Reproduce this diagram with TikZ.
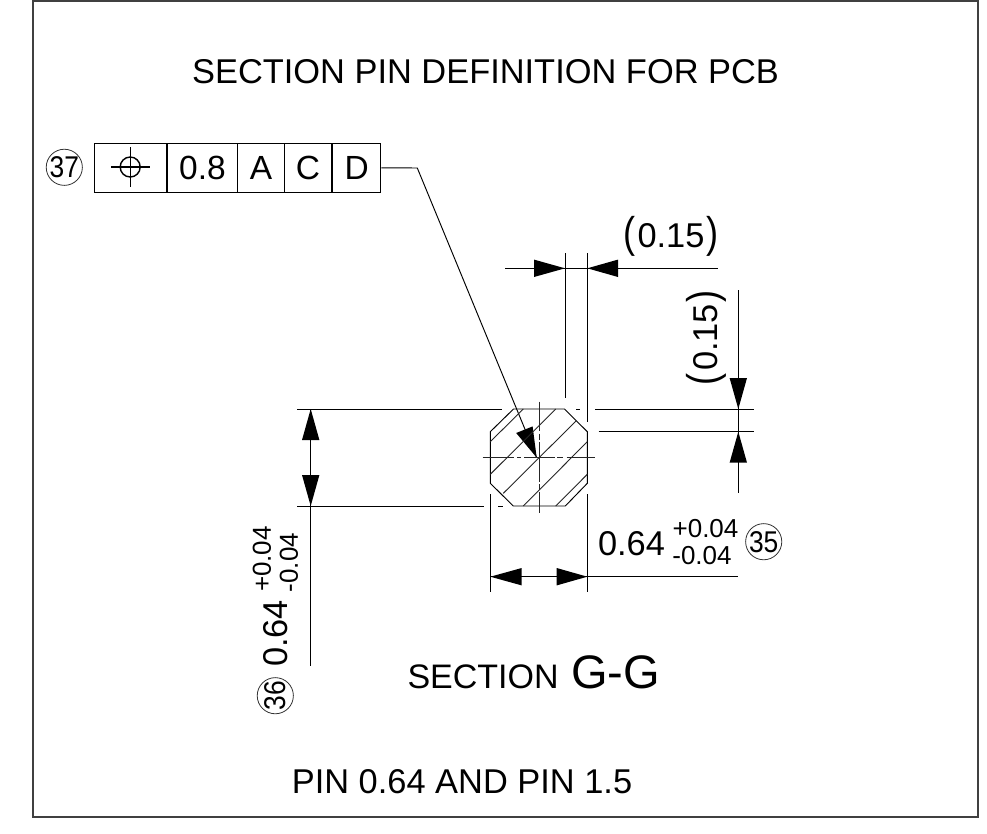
\documentclass[tikz,border=0pt]{standalone}
\usepackage{fontspec}
\setmainfont{Liberation Sans}
\newcommand{\fs}[1]{\fontsize{#1}{#1}\selectfont}
\newcommand{\tallp}[1]{\scalebox{1.05}[1.25]{#1}}
\newcommand{\narrow}[1]{\scalebox{0.88}[1]{#1}}
\tikzset{
  lin/.style={draw=black,line width=0.95pt},
  hat/.style={draw=black!85,line width=0.9pt},
  frm/.style={draw=black!75,line width=1.3pt},
  cell/.style={draw=black,line width=1pt},
  arr/.style={fill=black,draw=none},
  lab/.style={inner sep=0pt,outer sep=0pt,text=black},
  big/.style={lab,font=\fs{34.4}},
  tol/.style={lab,font=\fs{26}},
  bubble/.style={draw=black!80,line width=0.8pt,circle,minimum size=34pt,inner sep=0pt,font=\fs{30}},
}
\newcommand{\darrow}[4]{\fill[arr] (#1,#2) -- (#3,#4-8.7) -- (#3,#4+8.7) -- cycle;}
\begin{document}
\begin{tikzpicture}[x=1pt,y=-1pt]
\useasboundingbox (0,0) rectangle (987,833);
\draw[frm] (33,1) rectangle (978,817);
\node[big] (title) at (485.5,72) {SECTION PIN DEFINITION FOR PCB};
% feature control frame
\draw[cell] (94,143.3) rectangle (166.7,192.3);
\node[cell,minimum width=70.6pt,minimum height=49pt,inner sep=0pt,font=\fs{33.5},anchor=west] (c1) at (166.7,167.8) {0.8};
\node[cell,minimum width=46.7pt,minimum height=49pt,inner sep=0pt,font=\fs{33.5},anchor=west] (c2) at (237.3,167.8) {A};
\node[cell,minimum width=46.7pt,minimum height=49pt,inner sep=0pt,font=\fs{33.5},anchor=west] (c3) at (284,167.8) {C};
\node[cell,minimum width=48pt,minimum height=49pt,inner sep=0pt,font=\fs{33.5},anchor=west] (c4) at (332.3,167.8) {D};
\draw[lin,line width=1.4pt] (130.2,167) circle (10);
\draw[lin,line width=1.4pt] (111,167) -- (149.5,167) (130.2,147) -- (130.2,187);
\node[bubble] (b37) at (64.3,167.3) {\narrow{37}};
% leader
\coordinate (ltip) at (536.7,457.7);
\draw[lin] (c4.east) -- (417.3,168) -- (ltip);
\fill[arr] (ltip) -- (516.2,433) -- (532.6,426.4) -- cycle;
% octagon
\draw[lin] (513.5,409) -- (564.5,409) -- (587.3,431.7) -- (587.3,483.3) -- (565.3,506) -- (513.3,506) -- (490.3,483.3) -- (490.3,431.7) -- cycle;
% hatching
\draw[hat] (490.3,441.7) -- (523.3,409) (490.3,474.3) -- (555.7,409) (503.3,493.3) -- (576.3,420.7) (523.3,506) -- (587.3,441.7) (555.7,506) -- (587.3,474.3);
% centre lines
\draw[hat] (482.7,457.3) -- (514,457.3) (517,457.3) -- (521,457.3) (524,457.3) -- (555,457.3) (557,457.3) -- (563,457.3) (566.5,457.3) -- (595,457.3);
\draw[hat] (539,401.7) -- (539,431) (539,433.5) -- (539,440) (539,442) -- (539,482) (539,484) -- (539,490) (539,492) -- (539,513);
% extension lines
\draw[lin] (297,409.2) -- (502,409.2) (576,409.2) -- (580,409.2) (595,409.2) -- (753.7,409.2)
  (598.7,431.7) -- (753.7,431.7)
  (297,506.2) -- (484,506.2) (498,506.2) -- (503,506.2)
  (490.3,494) -- (490.3,591.5)
  (587.3,253) -- (587.3,422) (587.3,494) -- (587.3,591.5)
  (565.3,253) -- (565.3,398);
% top dimension
\draw[lin] (505,268.3) -- (718,268.3);
\darrow{565}{268.3}{534}{268.3}
\darrow{587.3}{268.3}{618}{268.3}
\node[big] (d1) at (671,236) {\tallp{(}\hspace{2pt}0.15\hspace{2pt}\tallp{)}};
% right dimension
\draw[lin] (738.3,290) -- (738.3,493);
\fill[arr] (738.3,409) -- (729.6,378) -- (747,378) -- cycle;
\fill[arr] (738.3,431.7) -- (729.6,462.7) -- (747,462.7) -- cycle;
\node[big,rotate=90] (d2) at (706,337.5) {\tallp{(}\hspace{2pt}0.15\hspace{2pt}\tallp{)}};
% left dimension
\draw[lin] (310.7,409) -- (310.7,666);
\fill[arr] (310.7,409) -- (302,440) -- (319.4,440) -- cycle;
\fill[arr] (310.7,506) -- (302,475) -- (319.4,475) -- cycle;
\node[big,rotate=90] (d3) at (275.5,633.5) {0.64};
\node[tol,rotate=90] (d3a) at (262,559) {+0.04};
\node[tol,rotate=90] (d3b) at (289,562.5) {-0.04};
\node[bubble,rotate=90] (b36) at (275.3,695.7) {\narrow{36}};
% bottom dimension
\draw[lin] (490.3,576.7) -- (738,576.7);
\darrow{490.3}{576.7}{521.7}{576.7}
\darrow{587.3}{576.7}{556.7}{576.7}
\node[big] (d4) at (631.5,544) {0.64};
\node[tol] (d4a) at (705.5,529) {+0.04};
\node[tol] (d4b) at (702,556) {-0.04};
\node[bubble] (b35) at (763.7,541.7) {\narrow{35}};
% captions
\node[lab,anchor=base west,font=\fs{34}] (sec) at (407.5,688) {SECTION\hspace{3pt} {\fs{47}G-G}};
\node[big] (pin) at (462,782) {PIN 0.64 AND PIN 1.5};
\end{tikzpicture}
\end{document}
